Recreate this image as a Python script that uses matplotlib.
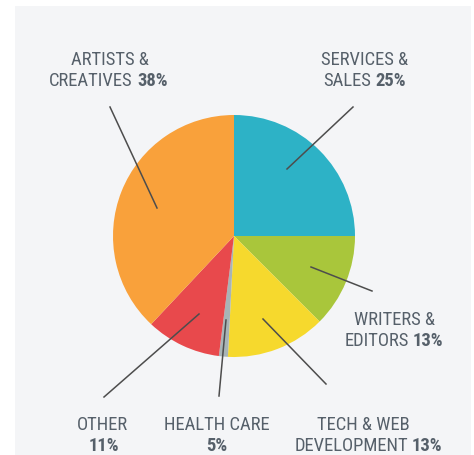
import matplotlib
matplotlib.use("Agg")
import matplotlib.pyplot as plt
from matplotlib.patches import Rectangle

# Data (slice sizes, labels as printed)
categories = ["SERVICES & SALES", "WRITERS & EDITORS", "TECH & WEB DEVELOPMENT",
              "HEALTH CARE", "OTHER", "ARTISTS & CREATIVES"]
slice_values = [25, 12.5, 13.3, 1.2, 10, 38]
label_pcts = ["25%", "13%", "13%", "5%", "11%", "38%"]
colors = ["#2db2c6", "#a9c63b", "#f6d92d", "#a8b4b6", "#e8494c", "#f9a13b"]

W, H = 474, 456
fig = plt.figure(figsize=(W / 100, H / 100), dpi=100)
fig.patch.set_facecolor("white")
ax = fig.add_axes([0, 0, 1, 1])

def Y(y):
    return H - y

ax.pie(slice_values, colors=colors, startangle=90, counterclock=False,
       center=(234, Y(237)), radius=121, frame=True,
       wedgeprops=dict(linewidth=0))
ax.add_patch(Rectangle((15, Y(456)), 456, 449, facecolor="#f4f5f7",
                       edgecolor="none", zorder=0))
ax.set_xlim(0, W)
ax.set_ylim(0, H)
ax.set_aspect("equal")
ax.axis("off")

line_color = "#4d4d4d"
leader_lines = [
    ((353, 108), (287, 170)),
    ((311, 268), (372, 292)),
    ((263, 320), (326, 385)),
    ((226, 321), (219, 397)),
    ((199, 315), (104, 398)),
    ((110, 108), (157, 209)),
]
for (x0, y0), (x1, y1) in leader_lines:
    ax.plot([x0, x1], [Y(y0), Y(y1)], color=line_color, lw=1.1, zorder=5)

fam = ["Roboto Condensed", "DejaVu Sans"]
tc = "#56606a"
fs = 13.4

def reg(x, y, s, ha="center"):
    ax.text(x, Y(y), s, ha=ha, va="center", fontsize=fs, color=tc,
            family=fam, zorder=6)

def bold(x, y, s, ha="left"):
    ax.text(x, Y(y), s, ha=ha, va="center", fontsize=fs, color=tc,
            family=fam, fontweight="bold", zorder=6)

# Artists & Creatives
reg(110, 60, "ARTISTS &")
reg(133, 81, "CREATIVES", ha="right")
bold(137, 81, label_pcts[5])
# Services & Sales
reg(365, 60, "SERVICES &")
reg(371, 81, "SALES", ha="right")
bold(375, 81, label_pcts[0])
# Writers & Editors
reg(395, 320, "WRITERS &")
reg(409, 341, "EDITORS", ha="right")
bold(413, 341, label_pcts[1])
# Other
reg(102, 425, "OTHER")
bold(104, 446, label_pcts[4], ha="center")
# Health care
reg(217, 425, "HEALTH CARE")
bold(217, 446, label_pcts[3], ha="center")
# Tech & Web
reg(363, 425, "TECH & WEB")
reg(408, 446, "DEVELOPMENT", ha="right")
bold(412, 446, label_pcts[2])

fig.savefig("out.png", dpi=100, facecolor="white")
